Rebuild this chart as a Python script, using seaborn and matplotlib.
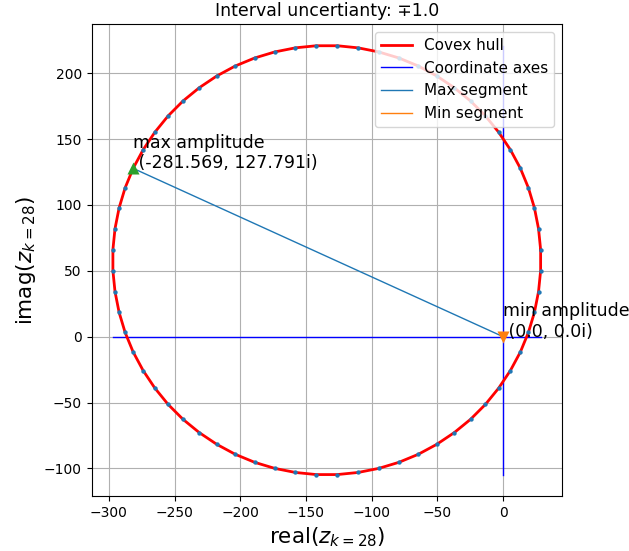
import matplotlib
matplotlib.use("Agg")
import matplotlib.pyplot as plt
import seaborn as sns

# hull vertices (64 points, counter-clockwise from the right side)
hull_x = [28.6, 27.0, 23.9, 19.3, 13.2, 5.6, -3.3, -13.4,
          -24.7, -37.1, -50.4, -64.5, -79.3, -94.6, -110.3, -126.2,
          -142.2, -158.1, -173.8, -189.1, -203.9, -218.0, -231.3, -243.7,
          -255.0, -265.1, -274.0, -281.6, -287.7, -292.3, -295.4, -297.0,
          -297.0, -295.4, -292.3, -287.7, -281.6, -274.0, -265.1, -255.0,
          -243.7, -231.3, -218.0, -203.9, -189.1, -173.8, -158.1, -142.2,
          -126.2, -110.3, -94.6, -79.3, -64.5, -50.4, -37.1, -24.7,
          -13.4, -3.3, 5.6, 13.2, 19.3, 23.9, 27.0, 28.6]
hull_y = [66.1, 82.0, 97.7, 113.0, 127.8, 141.9, 155.2, 167.6,
          178.9, 189.0, 197.9, 205.5, 211.6, 216.2, 219.3, 220.9,
          220.9, 219.3, 216.2, 211.6, 205.5, 197.9, 189.0, 178.9,
          167.6, 155.2, 141.9, 127.8, 113.0, 97.7, 82.0, 66.1,
          50.1, 34.2, 18.5, 3.2, -11.6, -25.7, -39.0, -51.4,
          -62.7, -72.8, -81.7, -89.3, -95.4, -100.0, -103.1, -104.7,
          -104.7, -103.1, -100.0, -95.4, -89.3, -81.7, -72.8, -62.7,
          -51.4, -39.0, -25.7, -11.6, 3.2, 18.5, 34.2, 50.1]

max_point = (-281.569, 127.791)
min_point = (0.0, 0.0)
uncertainty = 1.0

fig, ax = plt.subplots(figsize=(6.29, 5.51), dpi=100)
fig.subplots_adjust(left=0.1455, right=0.8935, bottom=0.0998, top=0.9559)

# closed hull outline
sns.lineplot(x=hull_x + hull_x[:1], y=hull_y + hull_y[:1], sort=False, estimator=None,
             color="red", linewidth=2, label="Covex hull", ax=ax)

# coordinate axes across the data extent (above the grid, below the hull)
sns.lineplot(x=[min(hull_x), max(hull_x)], y=[0, 0], sort=False, estimator=None,
             color="blue", linewidth=1, label="Coordinate axes", zorder=1.8, ax=ax)
sns.lineplot(x=[0, 0], y=[min(hull_y), max(hull_y)], sort=False, estimator=None,
             color="blue", linewidth=1, zorder=1.8, ax=ax)

# hull points
sns.scatterplot(x=hull_x, y=hull_y, color="tab:blue", s=10, linewidth=0, zorder=3, ax=ax)

# segments from the origin
sns.lineplot(x=[0, max_point[0]], y=[0, max_point[1]], sort=False, estimator=None,
             color="tab:blue", linewidth=1, label="Max segment", ax=ax)
sns.lineplot(x=[0, min_point[0]], y=[0, min_point[1]], sort=False, estimator=None,
             color="tab:orange", linewidth=1, label="Min segment", ax=ax)

sns.scatterplot(x=[max_point[0]], y=[max_point[1]], marker="^", color="tab:green",
                s=75, linewidth=0, zorder=4, ax=ax)
sns.scatterplot(x=[min_point[0]], y=[min_point[1]], marker="v", color="tab:orange",
                s=75, linewidth=0, zorder=4, ax=ax)

ax.text(max_point[0], max_point[1],
        f"max amplitude\n ({max_point[0]}, {max_point[1]}i)", fontsize=12.5)
ax.text(min_point[0], min_point[1],
        f"min amplitude\n ({min_point[0]}, {min_point[1]}i)", fontsize=12.5)

ax.set_title(f"Interval uncertianty: \u2213{uncertainty}", fontsize=12.5)
ax.set_xlabel(r"real($z_{k=28}$)", fontsize=15.5)
ax.set_ylabel(r"imag($z_{k=28}$)", fontsize=15.5)
ax.grid(True)
ax.legend(loc="upper right", fontsize=11)

fig.savefig("out.png", dpi=100)
